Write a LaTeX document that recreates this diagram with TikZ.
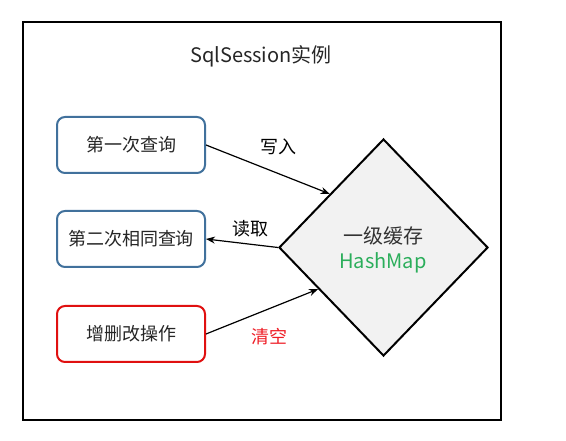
\documentclass[tikz,border=0pt]{standalone}
\usepackage{fontspec}
\setmainfont{Noto Sans CJK SC}
\usetikzlibrary{shapes.geometric,arrows.meta,calc}
\definecolor{boxblue}{HTML}{41719C}
\definecolor{boxred}{HTML}{E01010}
\definecolor{mapgreen}{HTML}{2BAE5B}
\definecolor{labred}{HTML}{EE1C25}
\definecolor{dfill}{HTML}{F2F2F2}
\begin{document}
\begin{tikzpicture}[x=1pt,y=-1pt,
  opbox/.style={draw,line width=2pt,rounded corners=8pt,minimum width=148pt,minimum height=56pt,inner sep=0pt,font=\fontsize{18}{20}\selectfont,text=black!85},
  conn/.style={-{Stealth[length=9pt,width=7pt]},line width=1.2pt},
  lab/.style={font=\fontsize{18}{20}\selectfont,inner sep=0pt}]
\useasboundingbox (0,0) rectangle (566,441);
\draw[line width=2pt] (23,22) rectangle (501,420);
\node[font=\fontsize{20}{22}\selectfont,text=black!85] (title) at (261,56) {SqlSession实例};
\node[opbox,draw=boxblue] (q1) at (131,145) {第一次查询};
\node[opbox,draw=boxblue] (q2) at (131,239) {第二次相同查询};
\node[opbox,draw=boxred] (op) at (131,334) {增删改操作};
\node[diamond,draw,line width=2pt,fill=dfill,minimum width=209pt,minimum height=217pt,inner sep=0pt,aspect=0.96] (d) at (383.5,247.5) {};
\node[font=\fontsize{20}{22}\selectfont,text=black!80] (c1) at (383,236) {一级缓存};
\node[font=\fontsize{20}{22}\selectfont,text=mapgreen] (c2) at (383,263) {HashMap};
\coordinate (w) at ($(d.west)!0.49!(d.north)$);
\coordinate (s) at ($(d.west)!0.38!(d.south)$);
\draw[conn] (q1.east) -- (w);
\draw[conn] (d.west) -- (q2.east);
\draw[conn] (op.east) -- (s);
\node[lab] (l1) at (278,147) {写入};
\node[lab] (l2) at (250,229) {读取};
\node[lab,text=labred] (l3) at (269,337) {清空};
\end{tikzpicture}
\end{document}
